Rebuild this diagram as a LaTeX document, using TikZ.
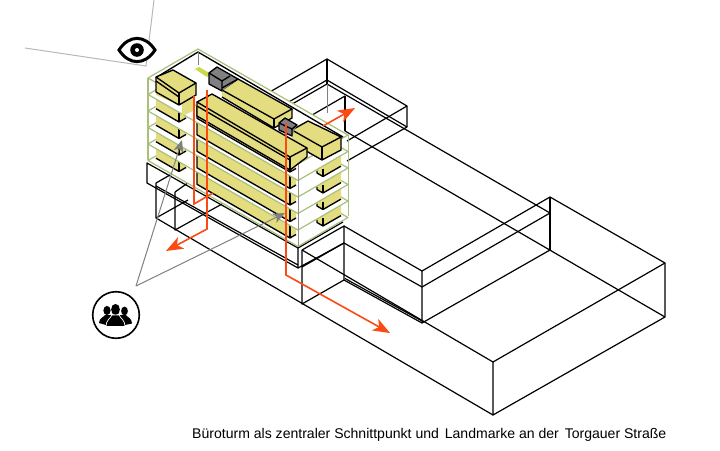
\documentclass[tikz,border=0pt]{standalone}
\usepackage{fontspec}
\setmainfont{Liberation Sans}
\usetikzlibrary{arrows.meta}
\definecolor{wall}{HTML}{E4DD80}
\definecolor{slab}{HTML}{A9BF7C}
\definecolor{route}{HTML}{FB4A14}
\definecolor{core}{HTML}{808080}
\tikzset{
  wire/.style={black,line width=1.2pt,line join=round},
  solid edge/.style={black,line width=1.35pt,line join=round},
  routeline/.style={route,line width=1.6pt},
  routearrow/.style={routeline,-{Stealth[length=17pt,width=13pt,inset=4.5pt]}},
  pointer/.style={core,line width=1pt,-{Stealth[length=12pt,width=10pt,inset=3pt]}},
  sight/.style={black!28,line width=1pt},
  floorplate/.style={draw=slab,fill=white,line width=1.2pt,line join=round},
  caption/.style={font=\fontsize{14.05}{16}\selectfont,anchor=base west,inner sep=0pt}
}
\newcommand{\plate}[1]{%
  \draw[floorplate] (148,#1) -- (198,#1-29) -- (348,#1+57) -- (298,#1+86) -- cycle;}
\newcommand{\midbar}[1]{%
  \fill[wall] (197,#1-53.7) -- (290,#1) -- (296,#1-3.5) -- (296,#1-16.5) -- (290,#1-13) -- (197,#1-66.7) -- cycle;
  \draw[solid edge] (197,#1-66.7) -- (197,#1-53.7) -- (290,#1) -- (296,#1-3.5);
  \draw[solid edge] (290,#1-13) -- (290,#1);}
\newcommand{\leftbar}[1]{%
  \fill[wall] (156,#1-13.3) -- (179,#1) -- (186,#1-4) -- (186,#1-14) -- (179,#1-14) -- (156,#1-27) -- cycle;
  \draw[solid edge] (156,#1-13.3) -- (179,#1) -- (186,#1-4);
  \draw[solid edge] (179,#1-12) -- (179,#1);}
\newcommand{\rightbar}[1]{%
  \fill[wall] (317,#1-3.5) -- (323,#1) -- (341,#1-10.4) -- (341,#1-24) -- (323,#1-14) -- (317,#1-17) -- cycle;
  \draw[solid edge] (317,#1-6) -- (317,#1-3.5) -- (323,#1) -- (341,#1-10.4);
  \draw[solid edge] (323,#1-8) -- (323,#1);}
\begin{document}
\begin{tikzpicture}[x=1pt,y=-1pt]
\useasboundingbox (0,0) rectangle (720,450);
\fill[white] (0,0) rectangle (720,450);
% sight lines
\draw[sight] (154,0) -- (146,66) -- (25,48);
% eye
\draw[black,line width=3pt,fill=white,line join=miter] (119,50) .. controls (129,34.5) and (145,34.5) .. (155,50) .. controls (145,65.5) and (129,65.5) .. (119,50) -- cycle;
\fill[black] (137,50) circle (6.8);
\fill[white] (137,50) circle (2);
% wire frames: big right block
\draw[wire] (302,250) -- (493,362) -- (665,263) -- (550,197) -- (422,271);
\draw[wire] (493,362) -- (493,415) -- (665,317) -- (665,263);
\draw[wire] (550,197) -- (550,250);
% mid block
\draw[wire] (344,226) -- (422,271) -- (422,323);
\draw[wire] (344,243) -- (422,287) -- (550,213);
\draw[wire] (344,280) -- (422,323) -- (550,250);
\draw[wire] (345,278.5) -- (423,321.5);
\draw[wire] (302,250) -- (344,226) -- (344,280) -- (302,304) -- (302,250);
\draw[wire] (302,267) -- (344,243);
% rear wings and long lines
\draw[wire] (268,93) -- (327,59) -- (407,106) -- (407,127) -- (347,161);
\draw[wire] (407,106) -- (347,141);
\draw[wire] (327,59) -- (327,84);
\draw[wire] (327,80) -- (407,127);
\draw[wire] (327,80) -- (280,107);
\draw[wire] (327,84) -- (287,107);
\draw[wire] (327,84) -- (550,213);
\draw[wire] (345,131) -- (665,317);
\draw[wire] (345,96) -- (345,131);
\draw[wire] (345,96) -- (300,122);
\draw[core,line width=1pt] (327,84) -- (327,113);
% podium
\draw[wire] (147,163) -- (298,248) -- (298,268) -- (147,183) -- cycle;
\draw[wire] (298,248) -- (343,222);
\draw[wire] (298,268) -- (344,243);
\draw[wire] (156,186) -- (298,265);
\draw[wire] (156,183) -- (156,218) -- (493,415);
\draw[wire] (175,192) -- (175,230) -- (222,204);
\draw[wire] (156,218) -- (188,200);
\draw[wire] (156,183) -- (170,175);
\draw[wire] (175,192) -- (192,180);
% tower floors, bottom to top
\draw[black!45,line width=0.8pt] (298,164) -- (298,246);
\foreach \k in {5,4,3,2,1}{
  \pgfmathsetmacro{\py}{78+16.5*\k}
  \pgfmathsetmacro{\my}{238-16.5*(5-\k)}
  \plate{\py}
  \midbar{\my}
  \ifnum\k>1
    \pgfmathsetmacro{\ly}{171.5-16.5*(5-\k)}
    \pgfmathsetmacro{\ry}{226-16.5*(5-\k)}
    \leftbar{\ly}
    \rightbar{\ry}
  \fi
}
\draw[slab,line width=1.2pt] (148,78) -- (148,160);
\draw[slab,line width=1pt] (348,135) -- (348,216);
\draw[black!45,line width=0.8pt] (298,164) -- (298,246);
\plate{78}
\fill[slab!60!yellow] (195,69) -- (199,67) -- (211,74) -- (207,77) -- cycle;
% roof outline
\draw[solid edge] (157,77) -- (198,52) -- (343,137);
\draw[core,line width=0.8pt] (198,52) -- (198,65);
% left roof block
\fill[wall] (182,102) -- (195,94) -- (195,110) -- (182,116) -- cycle;
\fill[wall] (156,77) -- (173,70) -- (196,83) -- (196,95) -- (179,105) -- (156,95) -- cycle;
\draw[solid edge] (156,77) -- (173,70) -- (196,83) -- (179,93) -- cycle;
\draw[solid edge] (156,81) -- (179,97);
\draw[solid edge] (156,77) -- (156,92) -- (179,105) -- (196,95) -- (196,83);
\draw[solid edge] (179,93) -- (179,105);
% rear long block
\fill[wall] (222,90) -- (238,79) -- (292,109) -- (292,118) -- (274,128) -- (222,97) -- cycle;
\draw[solid edge] (222,90) -- (238,79) -- (292,109) -- (274,119) -- cycle;
\draw[solid edge] (222,97) -- (274,128) -- (292,118) -- (292,109);
\draw[solid edge] (274,119) -- (274,128);
% grey core 1
\fill[core] (209,73) -- (217,67) -- (238,79) -- (222,91) -- (209,84) -- cycle;
\draw[solid edge] (209,84) -- (209,73) -- (217,67) -- (238,79) -- (222,88);
\draw[solid edge] (209,73) -- (222,81) -- (230,76);
\draw[solid edge] (209,84) -- (222,91) -- (222,81);
% right roof block
\fill[wall] (292,130) -- (308,121) -- (341,137) -- (341,150) -- (322,160) -- (292,143) -- cycle;
\draw[solid edge] (292,130) -- (308,121) -- (341,137) -- (322,147) -- cycle;
\draw[solid edge] (292,143) -- (322,160) -- (341,150) -- (341,137);
\draw[solid edge] (322,147) -- (322,160);
% middle roof block
\fill[wall] (197,102) -- (212,94) -- (307,148) -- (307,157) -- (290,170) -- (197,116) -- cycle;
\draw[solid edge] (197,102) -- (212,94) -- (307,148) -- (290,157) -- cycle;
\draw[solid edge] (197,106) -- (290,160);
\draw[solid edge] (197,102) -- (197,116) -- (290,170) -- (307,157) -- (307,148);
\draw[solid edge] (290,157) -- (290,170);
% grey core 2
\fill[core] (279,123) -- (285,118) -- (297,125) -- (292,136) -- (279,130) -- cycle;
\draw[solid edge] (279,130) -- (279,123) -- (285,118) -- (297,125) -- (292,129) -- (279,123);
\draw[solid edge] (279,130) -- (292,136) -- (292,129);
% routes
\coordinate (r1a) at (207,90); \coordinate (r1b) at (207,229); \coordinate (r1c) at (166,251);
\coordinate (r2a) at (194,96); \coordinate (r2b) at (194,204); \coordinate (r2c) at (213,193);
\coordinate (r3a) at (286,123); \coordinate (r3b) at (286,275); \coordinate (r3c) at (390,333);
\coordinate (r4a) at (323,126); \coordinate (r4b) at (355,108);
\draw[routeline] (r2a) -- (r2b) -- (r2c);
\draw[routearrow] (r1a) -- (r1b) -- (r1c);
\draw[routearrow] (r3a) -- (r3b) -- (r3c);
\draw[routearrow] (r4a) -- (r4b);
% pointers
\coordinate (hub) at (136,286);
\coordinate (p1) at (182,140);
\coordinate (p2) at (285,213);
\draw[pointer] (hub) -- (p1);
\draw[pointer] (hub) -- (p2);
% people icon
\draw[black,line width=1.6pt] (116,315) circle (23.3);
\fill[black] (107,310.5) ellipse (3.6 and 4.6) (124.5,311) ellipse (3.4 and 4.4);
\fill[black] (99,323) .. controls (99,318) and (104,317) .. (105,315) -- (110,315) -- (121,315) -- (126,315) .. controls (127,317) and (132,318) .. (132,323.5) -- (125,325) -- (106,325) -- cycle;
\fill[black] (115.5,309.5) ellipse (4.4 and 5.6);
\draw[white,line width=0.7pt,fill=black] (106,326.5) .. controls (106,320) and (110,319) .. (112,315) -- (119,315) .. controls (121,319) and (125,320) .. (125,326.5) -- cycle;
% caption
\node[caption] (cap) at (192,438) {Büroturm als zentraler Schnittpunkt und\hspace{2pt} Landmarke an der\hspace{2pt} Torgauer Straße};
\end{tikzpicture}
\end{document}
